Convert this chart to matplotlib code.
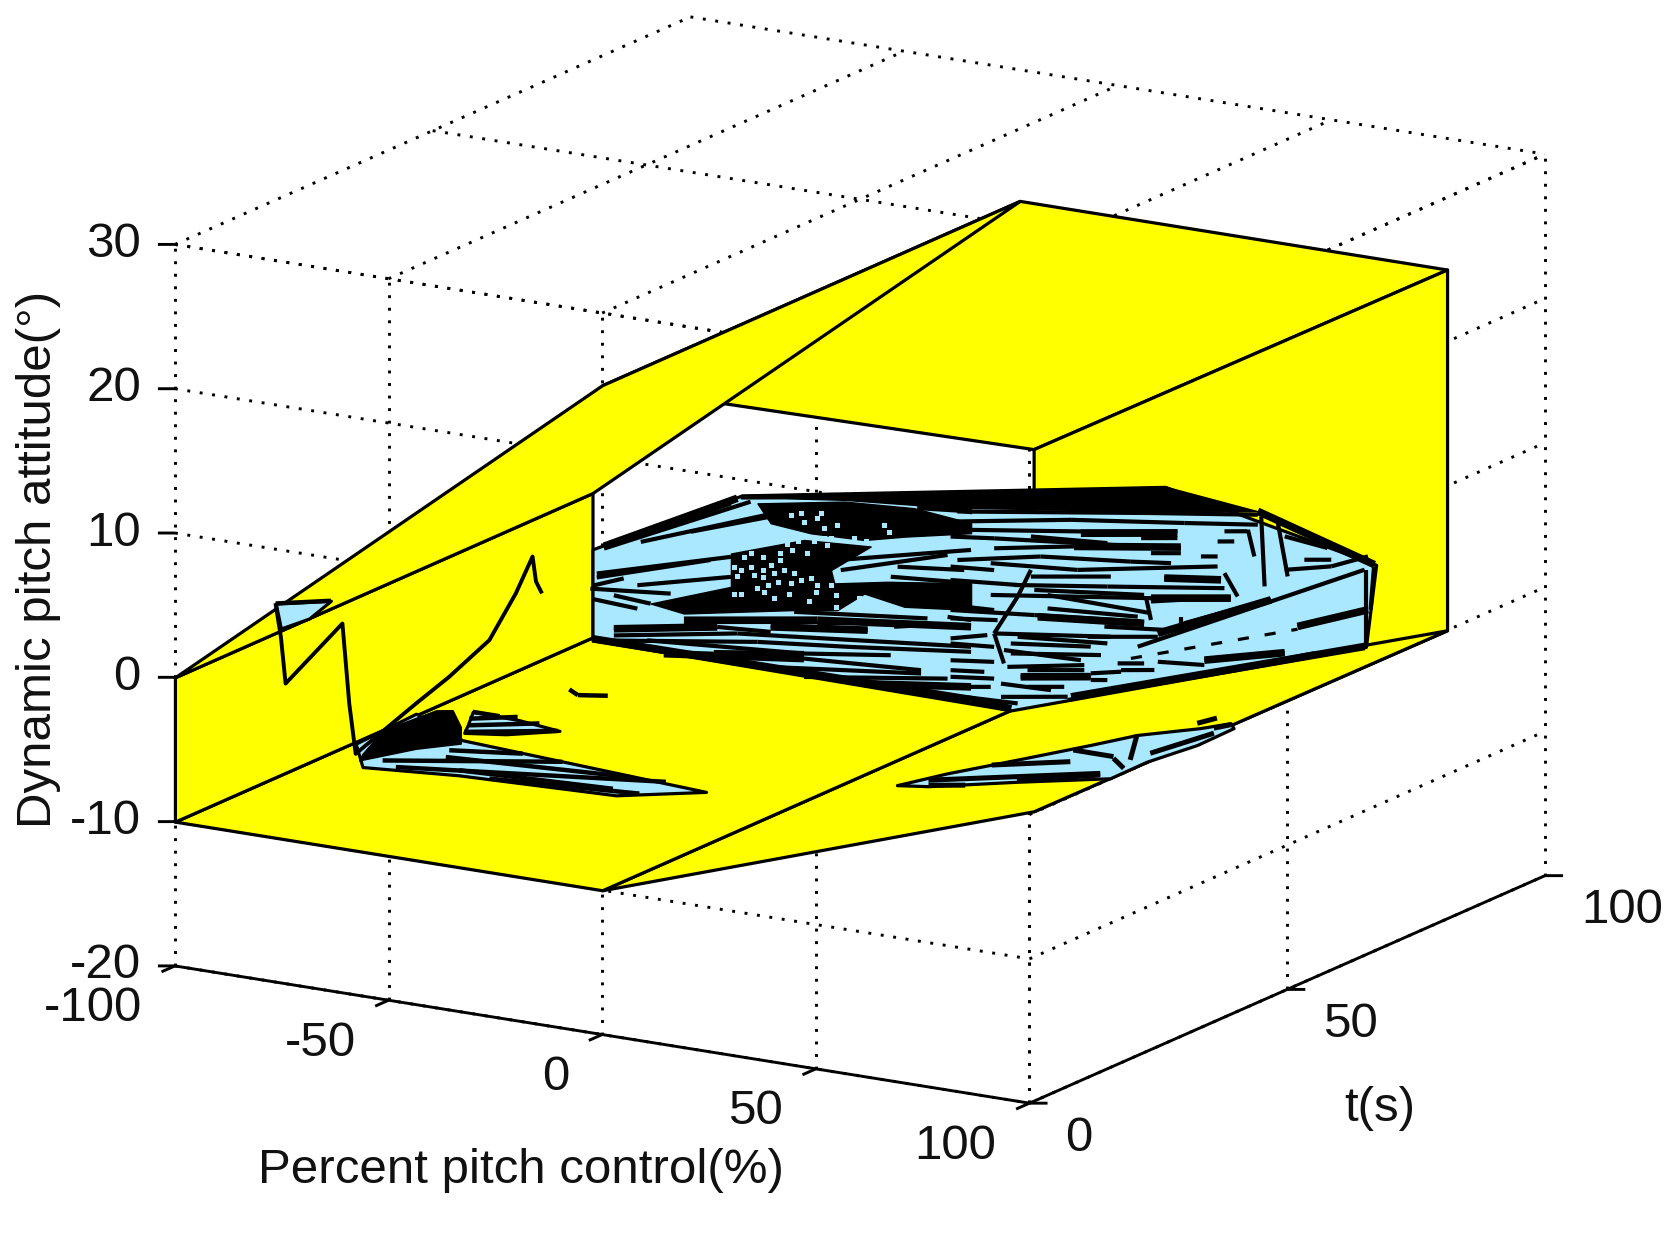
import matplotlib
matplotlib.use('Agg')
import matplotlib.pyplot as plt
from mpl_toolkits.mplot3d import proj3d
from mpl_toolkits.mplot3d.art3d import Poly3DCollection

x_ticks = [-100, -50, 0, 50, 100]
t_ticks = [0, 50, 100]
z_ticks = [-20, -10, 0, 10, 20, 30]
x_label = 'Percent pitch control(%)'
t_label = 't(s)'
z_label = 'Dynamic pitch attitude(°)'

t_end = 81

# yellow faces: (control, time, pitch)
flat_top = [(0, 0, 25), (100, 0.8, 25.2), (100, t_end, 25), (0, t_end, 25)]
right_wall = [(100, 0.8, 25.2), (100, t_end, 25), (100, t_end, 0), (100, 0.8, 0.1)]
floor_right = [(0, 0, -10), (100, 0.8, 0.1), (100, t_end, 0), (0, t_end, -10)]
floor_left = [(-100, 0, -10), (0, 0, -10), (0, t_end, -10), (-100, t_end, -10)]
left_wall = [(-100, 0, 0), (-100, 0, -10), (-100, t_end, -10), (-100, t_end, 0)]
slope_top = [(-100, 0, 0), (0, 0, 25), (0, t_end, 25), (-100, t_end, 0)]

# main cyan mesh, read on the t = 81 plane
main_x = [-100, -65, 34, 83.4, 81, -2, -100]
main_z = [-3.9, 1.5, 6.8, 3.75, -2.06, -10.4, -10.2]

# solid black parts of the mesh
dark_top1_x = [-65.3, -11.4, -11.4, -24.7, -41.1, -55.2, -65.3]
dark_top1_z = [1.51, 4.33, 2.82, 2.76, 2.33, 1.77, 1.28]
dark_top2_x = [-18, 15.1, 33.8, 55.7, 30.7, -18]
dark_top2_z = [4.0, 5.75, 6.83, 6.14, 4.95, 2.9]
dark_mid1_x = [-61.4, -41.1, -24.7, -11.4, -11.4, -27, -36.4, -48.9, -58.3]
dark_mid1_z = [1.12, 2.21, 2.53, 2.13, 1.43, 0.45, -0.23, -0.36, -0.11]
dark_mid2_x = [-67.6, -50.5, -34.9, -44.2, -43.4, -31, -11.4, -11.4, -27, -36.4, -42.7, -53.6, -78.6, -86.4, -67.6]
dark_mid2_z = [-2.65, -0.9, -0.61, -2.69, -3.57, -2.87, -2.04, -3.89, -4.41, -3.94, -5.39, -5.91, -7.33, -7.01, -4.96]

# mesh edges: x0, z0, x1, z1
main_edges = [
    (-97.3, -3.72, -63, 1.16), (-91, -2.73, -67.6, 0.82), (-88.7, -2.85, -57.5, 0.62),
    (-77, -1.59, -58.3, 0.35), (-99, -5.53, -67.6, -2.88), (-99, -5.8, -72.4, -3.33),
    (-89.5, -5.89, -67.6, -4.27), (-100.5, -6.65, -81.7, -6.1), (-95, -6.85, -86.4, -7.02),
    (-100, -7.34, -89.5, -7.51), (-100, -6.42, -92.7, -5.57),
    (-95, -9.17, -70.8, -7.89), (-70.8, -7.89, -58.3, -7.64),
    (-95, -9.63, -66.1, -8.12), (-66.1, -8.12, -11.4, -6.44),
    (-97.3, -10.09, -61.4, -8.48), (-61.4, -8.48, -39.5, -7.79), (-39.5, -7.79, -11.4, -6.79),
    (-87.2, -9.6, -50.5, -8.77), (-50.5, -8.77, -30.2, -7.92),
    (-83.3, -10.34, -50.5, -9.12), (-50.5, -9.12, -23.1, -8.62),
    (-71.6, -9.67, -50.5, -8.73), (-58.3, -10.07, -23.1, -8.85), (-50.5, -10.39, -16.9, -8.91),
    (-36.4, -10.19, -11.4, -9.22), (-58.3, -7.29, -35.6, -6.44), (-47.4, -6.54, -35.6, -5.93),
    (-52.8, -5.99, -21.6, -4.96), (-29.4, -5.91, -22.4, -5.46), (-16.9, -4.63, -11.4, -4.59),
    (-28.6, -3.1, -11.4, -2.16), (-30.2, -2.48, -11.4, -2.04), (-28.6, -1.71, -13, -1.2),
    (-42.7, -1.92, -11.4, 0.27), (-41.9, -2.58, -16.9, -0.34), (-24, 2.57, -11.4, 2.94),
    (-23.1, 1.45, -11.4, 1.89),
    (-14.6, 2.78, 30.7, 4.83), (30.7, 4.83, 55.7, 5.9),
    (-16.2, 2.01, 12, 3.47), (12, 3.47, 38.5, 4.51), (38.5, 4.51, 55.7, 5.21),
    (-12.3, 1.62, 15.1, 2.81), (15.1, 2.81, 36.9, 3.86),
    (-16.2, 0.97, -6, 1.33), (-6, 1.33, 21.3, 2.18), (21.3, 2.18, 37.7, 2.73),
    (-14.6, -0.58, 4.9, 0.59), (4.9, 0.59, 26, 1.24), (26, 1.24, 35.4, 1.58),
    (-6.8, -0.43, 13.5, 0.07), (13.5, 0.07, 46.3, 1.87),
    (2.6, -0.91, 21.3, -0.02), (33.8, 0.47, 47.1, 0.98),
    (-1.3, -1.68, 20.5, -0.75), (20.5, -0.75, 47.9, 0.44),
    (-6.8, -2.63, 30.7, -1.07), (30.7, -1.07, 49.4, -0.18),
    (-16.2, -4.12, 3.4, -3.54), (3.4, -3.54, 28.4, -2.8),
    (6.5, -2, 30.7, -2.11), (4.2, -3.62, 29.1, -2.89),
    (28.4, 2.98, 36.9, 3.39), (46.3, 3.6, 50.2, 3.79), (30.7, 2.05, 37.7, 2.38),
    (42.4, 2.38, 46.3, 2.56), (47.9, 4.38, 53.3, 4.64),
    (-16.2, -4.7, -5.2, -4.3), (-16.2, -6.44, -6, -6.19), (-16.2, -7.6, -6, -7.23),
    (-16.2, -8.75, -6, -8.39), (-6, -5.26, 21.3, -4.19), (-2.1, -5.77, 16.6, -5.1),
    (-2.1, -6.46, 19, -5.57), (-2.9, -7.43, 15.1, -6.45), (0.2, -7.97, 16.6, -7.18),
    (-13, -9.99, -0.5, -9.85), (-4.4, -9.58, 11.2, -8.83), (1.8, -8.59, 10.4, -8.18),
    (22.9, -5.96, 29.1, -5.67), (23.7, -6.39, 31.5, -6.01), (16.6, -6.95, 23.7, -6.5),
    (16.6, -7.41, 20.5, -7.23), (32.3, -5.4, 43.2, -5.11), (43.2, -4.77, 62, -3.36),
    (65, -1.4, 81.5, 0.54), (27.6, -4.58, 80.7, 3.28),
    (32.3, -3.43, 58.8, 0.15), (38.5, -2.44, 52.6, -0.61),
    (56.5, 5.83, 57.3, 1.01), (60.4, 5.56, 62.7, 1.96), (29.5, -1.02, 30.7, -2.58),
    (37.7, -2.02, 37.7, -2.71), (2.6, -0.45, -0.5, -2.45), (-0.5, -2.45, -6, -5.26),
    (-6, -5.26, -3.7, -7.23), (53.4, 4.75, 54.9, 2.97), (47.9, 1.48, 51, 0.01),
    (62, 4.7, 72, 4.37), (66.6, 3.3, 72.9, 3.6), (62, 2.38, 72.9, 3.14), (72.9, 3.14, 81.5, 4.24),
    (81.1, 3.29, 81.1, -2.03), (82.9, 3.62, 82.1, 0.57),
    (27.6, -7.36, 52.6, -4.78), (52.6, -4.78, 69, -3.06), (11.2, -9.06, 22.9, -7.81),
    (-16.2, -1.11, -6, -0.87), (-16.2, -2.04, -0.5, -1.64), (-16.2, -3.78, -6, -3.64),
    (-16.2, -6.09, -7.6, -5.45), (-16.2, -8.29, -8.3, -8.03), (-16.2, -9.45, -6.8, -9),
    (-0.5, -5.23, 20.5, -4.69), (-3.7, -6.3, 14.3, -6.15), (1.8, -7.43, 15.1, -6.8),
    (-4.4, -8.66, 7.3, -8.56), (15.9, -4.45, 32.3, -3.67), (19.8, -3.56, 33.8, -3.12),
    (30.7, -1.3, 44.8, -0.4), (3.4, -1.8, 29.1, -0.92), (6.5, -2.93, 27.6, -2.5),
    (-6, 0.64, 12.7, 1.66), (2.6, 1.87, 20.5, 2.26),
]
# thicker streaks of the same mesh
heavy_edges = [
    (-97.3, -3.56, -66.1, 1.25), (-78.6, -7.8, -47.4, -6.31), (-47.4, -6.31, -11.4, -5.05),
    (-95, -9.17, -70.8, -7.89), (-58.3, -7.29, -35.6, -6.44), (-100, -10.1, -11.4, -10.1),
    (-11.4, -10.1, -2, -10.3), (12, -8.8, 80.7, -2.04), (12.7, 1.66, 37.7, 2.8),
    (14.3, 2.65, 36.9, 3.74), (55.7, 6.14, 83, 3.74), (4.2, -3.62, 29.1, -2.89),
    (32.3, -3.43, 58.8, 0.15), (30.7, -1.07, 49.4, -0.18), (33.8, 0.47, 47.1, 0.98),
    (0.2, -7.97, 16.6, -7.18), (65, -1.4, 81.5, 0.54), (43.2, -4.77, 62, -3.36),
    (-83.3, -10.34, -50.5, -9.12), (-36.4, -10.19, -11.4, -9.22),
]
# dashes along the pale front band
band_x = [26, 65]
band_z = [-5.47, -1.59]

# cyan holes left in the dense black part
speck_x = [-53.6, -51.3, -46.6, -50.5, -47.4, -45.8, -42.7, -31.7, -30.6, -45.8, -44.2, -48.1, -52, -54.4,
           -38.8, -36, -53.2, -49.7, -56, -45, -64.5, -63, -60.2, -56, -66.9, -65.3, -63, -60.2, -58.3,
           -55.2, -66.1, -62.2, -60.2, -57.5, -52.8, -48.9, -53.6, -51.3, -56.7, -59, -61.4, -47.4, -44.2,
           -47.8, -59.9, -57.5, -54, -43, -37.6, -49.3, -43, -66.9, -65.3]
speck_z = [0.68, 0.91, 1.19, 0.37, 0.75, 0.13, 0.51, 1.04, 0.63, -0.57, -0.49, -0.86, -1.04, -1.37,
           -0.23, -0.28, -1.73, -1.79, -2.09, -0.99, -2.73, -2.43, -2.53, -2.55, -3.53, -3.7, -3.35, -3.46, -3.01,
           -3.21, -4.12, -3.89, -3.92, -3.55, -3.33, -3.48, -4.06, -3.72, -4.1, -4.44, -4.78, -3.88, -3.73,
           -4.36, -4.94, -5.24, -4.84, -4.36, -4.29, -5.08, -5.17, -5.45, -5.38]

# left trajectory and patches, read on the t = 0 plane
path_x = [-76.4, -75.2, -74.1, -60.8, -59.2, -57.7, -43.6, -35.8, -26.4, -20.2, -16.3, -15.5, -14.3]
path_z = [6.13, 3.98, 0.8, 5.59, 0.12, -3.29, 0.86, 3.09, 6.08, 9.62, 12.35, 10.66, 10.01]
tip_x = [-76.4, -63.5, -68.6, -75.2]
tip_z = [6.24, 7.04, 5.57, 4.56]
wedge_x = [-57.7, -43.6, -32.7, 24.3, 3.2, -33.5, -56.1]
wedge_z = [-2.59, 0.16, -1.16, -2.03, -3.27, -3.63, -4.13]
blob_x = [-56.1, -51.4, -38.9, -35, -33.1, -33.1, -43.6, -56.9]
blob_z = [-3.21, -1.37, 0.62, 0.81, -0.25, -1.41, -2.27, -3.71]
small_x = [-31.5, -30.3, -19.4, -10, -22.5, -32.3]
small_z = [-0.07, 0.92, 0.86, 0.57, -0.26, -0.63]
left_edges = [
    (-76.4, 6.24, -63.5, 7.04), (-35.8, -2, -18.6, -1.42), (-26.4, -3.52, 8.7, -2.89),
    (-51.4, -3.45, -9.3, -1.54), (-36.6, -2.51, 6.4, -1.85), (-48.3, -3.76, 14.9, -1.78),
    (-33.5, -3.28, 2.5, -2.85), (-30.3, 0.92, -24, 0.92), (-31.1, 0.41, -19.8, 1.07),
    (-31.5, -0.07, -14.7, 0.86), (-32.3, -0.56, -10.4, 0.55),
    (-7.7, 3.55, -5.7, 3.25), (-5.7, 3.25, 1.3, 3.54),
]

# lower right patch, read on the t = 40 plane
low_x = [20.7, 32.4, 50.3, 66, 76.9, 91.7, 98.8, 99.5, 91, 79.2, 70.6, 48.8, 28.1]
low_z = [-8.04, -6.67, -4.78, -3.1, -1.89, -0.71, -0.03, -0.34, -1.91, -3.63, -5.19, -6.47, -7.76]
low_edges = [
    (28.1, -7.34, 68.3, -4.96), (28.1, -7.69, 36.7, -7.28), (48.8, -6.35, 68.3, -5.07),
    (42.9, -5.59, 61.3, -4.48), (62, -3.64, 71.4, -3.65), (71.4, -3.77, 73.8, -4.35),
    (76.9, -1.89, 75.3, -3.69), (80, -3.01, 94.9, -0.91), (94.9, -0.56, 98.8, -0.14),
    (91, -0.41, 95.6, 0.17),
]

yellow = '#ffff00'
cyan = '#aae8ff'


def plane(xs, t, zs):
    return [(a, t, b) for a, b in zip(xs, zs)]


def draw_edges(ax, edges, t, zorder, lw):
    for x0, z0, x1, z1 in edges:
        ax.plot([x0, x1], [t, t], [z0, z1], color='k', lw=lw, zorder=zorder, solid_capstyle='butt')


fig = plt.figure(figsize=(16.7, 12.46), dpi=100)
ax = fig.add_axes([2.4 / 1670, -171.6 / 1246, 1, 1670 / 1246], projection='3d', computed_zorder=False,
                  proj_type='ortho')
ax.view_init(elev=15.44, azim=-58.9)
ax.set_box_aspect((1, 1, 0.75), zoom=0.9287)
ax.set_axis_off()

# dotted grid on the t=0, x=100 and z=30 planes
dots = (0, (1, 3.3))
grid = dict(color='k', lw=2.1, ls=dots, zorder=1)
for v in x_ticks:
    ax.plot([v, v], [0, 0], [-20, 30], **grid)
    ax.plot([v, v], [0, 100], [30, 30], **grid)
for v in t_ticks:
    ax.plot([100, 100], [v, v], [-20, 30], **grid)
    ax.plot([-100, 100], [v, v], [30, 30], **grid)
for v in z_ticks:
    ax.plot([-100, 100], [0, 0], [v, v], **grid)
    ax.plot([100, 100], [0, 100], [v, v], **grid)

# axis lines and ticks
line = dict(color='k', lw=2.1, zorder=2, solid_capstyle='butt')
ax.plot([-100, 100], [0, 0], [-20, -20], **line)
ax.plot([100, 100], [0, 100], [-20, -20], **line)
for v in x_ticks:
    ax.plot([v, v], [0, -2.6], [-20, -20], **line)
for v in t_ticks:
    ax.plot([100, 103.1], [v, v + 0.93], [-20, -20], **line)
for v in z_ticks:
    ax.plot([-100, -102.92], [0, -0.88], [v, v], **line)

# yellow surface, painted back to front
faces = [flat_top, right_wall, floor_right, floor_left, left_wall, slope_top]
for i, face in enumerate(faces):
    ax.add_collection3d(Poly3DCollection([face], facecolor=yellow, edgecolor='k', linewidths=2.3, zorder=3 + i))

# cyan patches
for xs, zs, t in [(main_x, main_z, t_end), (tip_x, tip_z, 0), (wedge_x, wedge_z, 0),
                  (small_x, small_z, 0), (low_x, low_z, 40)]:
    ax.add_collection3d(Poly3DCollection([plane(xs, t, zs)], facecolor=cyan, edgecolor='k', linewidths=2.3,
                                         zorder=10))

for xs, zs, t in [(dark_top1_x, dark_top1_z, t_end), (dark_top2_x, dark_top2_z, t_end),
                  (dark_mid1_x, dark_mid1_z, t_end), (dark_mid2_x, dark_mid2_z, t_end), (blob_x, blob_z, 0)]:
    ax.add_collection3d(Poly3DCollection([plane(xs, t, zs)], facecolor='k', edgecolor='k', linewidths=1.0,
                                         zorder=11))

draw_edges(ax, main_edges, t_end, 12, 3.0)
draw_edges(ax, heavy_edges, t_end, 12, 5.5)
draw_edges(ax, left_edges, 0, 12, 3.2)
draw_edges(ax, low_edges, 40, 12, 3.6)
ax.plot(band_x, [t_end, t_end], band_z, color='k', lw=2.3, ls=(0, (3.5, 5)), zorder=12)
ax.plot(path_x, [0] * len(path_x), path_z, color='k', lw=2.8, zorder=12)
ax.plot(speck_x, [t_end] * len(speck_x), speck_z, ls='none', marker='s', ms=3.6, mew=0, color=cyan, zorder=13)

ax.set_xlim(-100, 100, view_margin=0)
ax.set_ylim(0, 100, view_margin=0)
ax.set_zlim(-20, 30, view_margin=0)

font = dict(family='Liberation Sans', fontsize=35.5, color='#111111', zorder=20)
proj = ax.get_proj()


def label(x, t, z, s, **kw):
    u, v, _ = proj3d.proj_transform(x, t, z, proj)
    ax.text2D(u, v, s, transform=ax.transData, va='center', **font, **kw)


for v in x_ticks:
    label(v - 7.7, 0, -23.35, str(v), ha='right')
for v in t_ticks:
    label(108.4, v, -22.03, str(v), ha='left')
for v in z_ticks:
    label(-105.84, -1.77, v, str(v), ha='right')
label(-19, 0, -30.3, x_label, ha='center')
label(100, 68, -31.1, t_label, ha='center')
label(-132, 0, 6.67, z_label, ha='center', rotation=90)
fig.savefig('out.png', dpi=100)
